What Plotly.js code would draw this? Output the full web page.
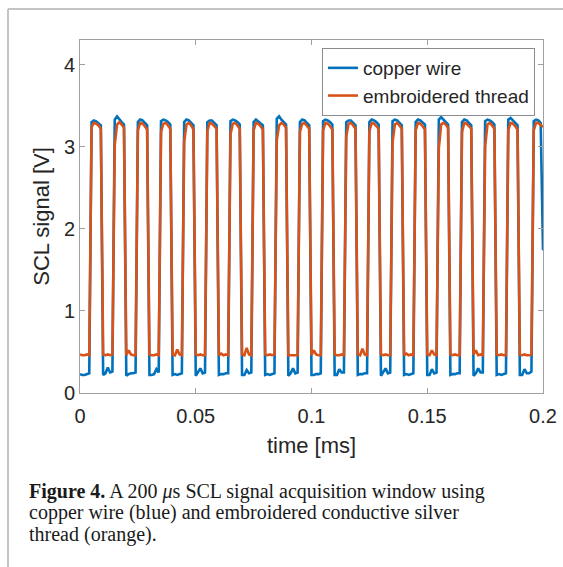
<!DOCTYPE html>
<html>
<head>
<meta charset="utf-8">
<script src="https://cdn.plot.ly/plotly-3.0.1.min.js"></script>
<style>
html,body{margin:0;padding:0;background:#fff;}
#chart{width:563px;height:567px;}
</style>
</head>
<body>
<div id="chart"></div>
<script>
// Sampling of the acquisition (ms)
const sampleStartMs = 0;
const sampleStepMs = 0.001;

// Series names
const seriesNames = ["copper wire", "embroidered thread"];

// copper wire SCL signal [V], one value per sample
const copperWire = [
  0.23,0.22,0.22,0.23,0.24, 3.30,3.32,3.31,3.29,3.26,
  0.22,0.24,0.31,0.25,0.26, 3.33,3.37,3.33,3.30,3.27,
  0.21,0.23,0.24,0.24,0.25, 3.30,3.33,3.32,3.29,3.26,
  0.22,0.22,0.23,0.29,0.25, 3.31,3.33,3.32,3.30,3.27,
  0.22,0.23,0.22,0.23,0.24, 3.30,3.33,3.32,3.29,3.26,
  0.21,0.25,0.30,0.24,0.25, 3.30,3.32,3.32,3.29,3.26,
  0.22,0.23,0.23,0.24,0.24, 3.31,3.33,3.32,3.30,3.27,
  0.22,0.22,0.28,0.24,0.25, 3.30,3.33,3.31,3.29,3.26,
  0.22,0.23,0.22,0.23,0.24, 3.34,3.37,3.33,3.30,3.27,
  0.21,0.24,0.30,0.24,0.25, 3.30,3.33,3.32,3.29,3.26,
  0.22,0.22,0.23,0.23,0.24, 3.31,3.33,3.32,3.30,3.27,
  0.22,0.22,0.29,0.25,0.25, 3.30,3.32,3.32,3.29,3.26,
  0.22,0.23,0.23,0.24,0.24, 3.30,3.33,3.32,3.30,3.27,
  0.21,0.25,0.30,0.24,0.25, 3.31,3.33,3.32,3.29,3.26,
  0.22,0.23,0.22,0.23,0.24, 3.30,3.33,3.32,3.30,3.27,
  0.22,0.22,0.29,0.24,0.25, 3.33,3.36,3.33,3.30,3.27,
  0.22,0.23,0.23,0.24,0.24, 3.30,3.33,3.32,3.29,3.26,
  0.21,0.24,0.30,0.25,0.25, 3.31,3.33,3.32,3.30,3.27,
  0.22,0.23,0.22,0.23,0.24, 3.33,3.35,3.32,3.29,3.26,
  0.22,0.22,0.29,0.24,0.24, 0.26,3.31,3.33,3.32,3.29,
  1.74
];

// embroidered thread SCL signal [V], one value per sample
const embroideredThread = [
  0.47,0.46,0.46,0.47,0.46, 3.24,3.29,3.28,3.26,3.22,
  0.47,0.46,0.47,0.46,0.47, 3.02,3.27,3.30,3.27,3.23,
  0.46,0.52,0.47,0.46,0.46, 3.20,3.29,3.28,3.25,3.21,
  0.47,0.46,0.46,0.47,0.46, 3.18,3.28,3.29,3.26,3.22,
  0.47,0.46,0.53,0.47,0.46, 3.06,3.27,3.29,3.26,3.21,
  0.47,0.46,0.47,0.46,0.46, 3.19,3.29,3.28,3.25,3.22,
  0.46,0.48,0.46,0.47,0.46, 3.15,3.28,3.29,3.26,3.22,
  0.47,0.46,0.55,0.47,0.46, 3.20,3.29,3.28,3.25,3.21,
  0.47,0.46,0.47,0.46,0.47, 3.08,3.26,3.29,3.27,3.23,
  0.46,0.46,0.46,0.46,0.46, 3.18,3.28,3.29,3.26,3.22,
  0.46,0.52,0.47,0.46,0.46, 3.20,3.29,3.28,3.25,3.21,
  0.47,0.46,0.46,0.47,0.46, 3.12,3.28,3.29,3.26,3.22,
  0.47,0.46,0.54,0.47,0.46, 3.19,3.29,3.28,3.25,3.22,
  0.47,0.46,0.47,0.46,0.46, 3.05,3.27,3.29,3.26,3.22,
  0.46,0.48,0.46,0.47,0.46, 3.20,3.29,3.28,3.25,3.21,
  0.47,0.46,0.52,0.47,0.46, 2.98,3.27,3.29,3.27,3.23,
  0.47,0.46,0.47,0.46,0.46, 3.18,3.29,3.28,3.25,3.22,
  0.47,0.52,0.46,0.47,0.46, 3.00,3.27,3.29,3.26,3.22,
  0.47,0.46,0.47,0.46,0.46, 3.20,3.29,3.28,3.25,3.21,
  0.47,0.46,0.47,0.46,0.46, 0.47,3.20,3.29,3.29,3.27,
  3.24
];

// Axis ticks
const xTickVals = [0, 0.05, 0.1, 0.15, 0.2];
const xTickText = ["0", "0.05", "0.1", "0.15", "0.2"];
const yTickVals = [0, 1, 2, 3, 4];
const yTickText = ["0", "1", "2", "3", "4"];

// Caption lines
const captionLines = [
  "<b>Figure 4.</b> A 200 <i>μ</i>s SCL signal acquisition window using",
  "copper wire (blue) and embroidered conductive silver",
  "thread (orange)."
];

const sans = "Liberation Sans, Arial, sans-serif";
const serif = "Liberation Serif, Times New Roman, serif";
const axisGray = "#a0a0a0";

const traces = [
  {
    type: "scatter", mode: "lines", name: seriesNames[0],
    x0: sampleStartMs, dx: sampleStepMs, y: copperWire,
    line: {color: "#0072BD", width: 2.6}
  },
  {
    type: "scatter", mode: "lines", name: seriesNames[1],
    x0: sampleStartMs, dx: sampleStepMs, y: embroideredThread,
    line: {color: "#D95319", width: 2.6}
  }
];

const L = 80, R = 543, T = 40, B = 393;
const W = 563, H = 567;
const px = (v) => (v - L) / (R - L);
const py = (v) => (B - v) / (B - T);

const captionY = [491, 512.5, 534];
const captionAnnotations = captionLines.map((t, i) => ({
  xref: "paper", yref: "paper", x: px(27), y: py(captionY[i]),
  xanchor: "left", yanchor: "middle", align: "left", showarrow: false, text: t,
  font: {family: serif, size: 20, color: "#1a1a1a"}
}));

const layout = {
  width: W, height: H,
  margin: {l: L, r: W - R, t: T, b: H - B, pad: 0},
  paper_bgcolor: "#fff", plot_bgcolor: "#fff",
  showlegend: true,
  font: {family: sans, color: "#262626"},
  xaxis: {
    range: [0, 0.2], tickvals: xTickVals, ticktext: xTickText,
    ticks: "inside", ticklen: 5, tickcolor: axisGray, tickwidth: 1,
    showline: true, linecolor: axisGray, linewidth: 1, mirror: "ticks",
    showgrid: false, zeroline: false, ticklabelstandoff: 5,
    tickfont: {family: sans, size: 20, color: "#262626"},
    title: {text: "time [ms]", font: {family: sans, size: 22, color: "#262626"}, standoff: 11}
  },
  yaxis: {
    range: [0, 4.3], tickvals: yTickVals, ticktext: yTickText,
    ticks: "inside", ticklen: 5, tickcolor: axisGray, tickwidth: 1,
    showline: true, linecolor: axisGray, linewidth: 1, mirror: "ticks",
    showgrid: false, zeroline: false,
    tickfont: {family: sans, size: 20, color: "#262626"},
    title: {text: "SCL signal [V]", font: {family: sans, size: 22, color: "#262626"}, standoff: 8}
  },
  legend: {
    x: px(535), y: py(48), xanchor: "right", yanchor: "top",
    bgcolor: "#fff", bordercolor: "#8c8c8c", borderwidth: 1,
    font: {family: sans, size: 19, color: "#262626"},
    itemwidth: 30, tracegroupgap: 0
  },
  shapes: [
    {type: "line", xref: "paper", yref: "paper", x0: px(8), x1: px(8), y0: py(9), y1: py(567),
     line: {color: "#c4c4c4", width: 2}},
    {type: "line", xref: "paper", yref: "paper", x0: px(8), x1: px(563), y0: py(9), y1: py(9),
     line: {color: "#c4c4c4", width: 2}}
  ],
  annotations: captionAnnotations
};

Plotly.newPlot("chart", traces, layout, {displayModeBar: false, staticPlot: true});
</script>
</body>
</html>
